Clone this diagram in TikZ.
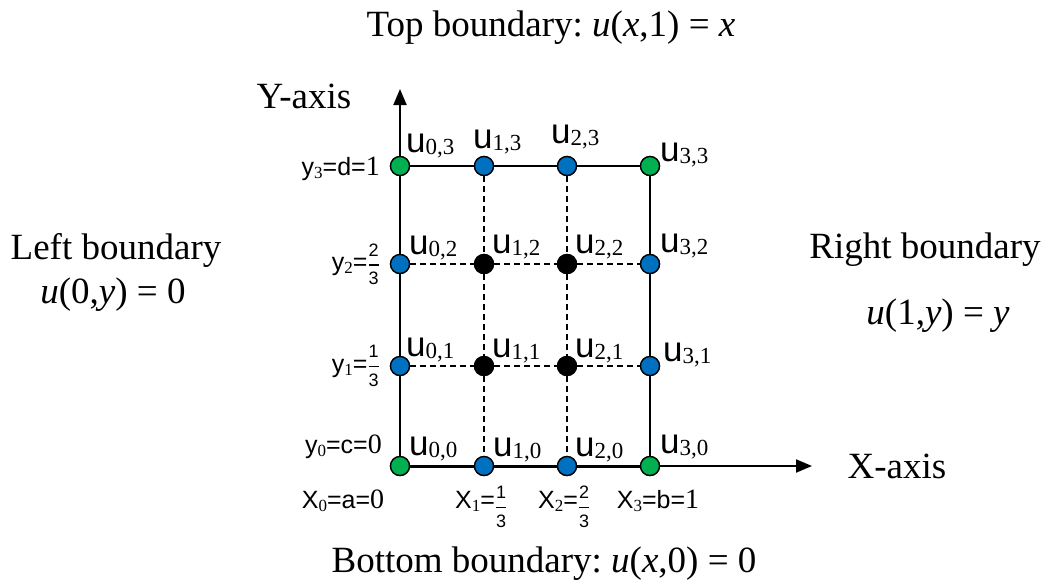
\documentclass[tikz,border=0pt]{standalone}
\usepackage{fontspec}
\setmainfont{Liberation Serif}
\newfontfamily\arialf{Liberation Sans}
\usetikzlibrary{arrows.meta}
\definecolor{ptgreen}{HTML}{00B050}
\definecolor{ptblue}{HTML}{0070C0}
\newcommand\ulab[1]{{\fontsize{35}{35}\selectfont\arialf u}{\fontsize{23}{23}\selectfont\raisebox{-2pt}{#1}}}
\newcommand\lA[1]{{\arialf\fontsize{25}{25}\selectfont #1}}
\newcommand\lS[1]{{\fontsize{17}{17}\selectfont\raisebox{-3pt}{#1}}}
\newcommand\lD[1]{{\fontsize{28}{28}\selectfont #1}}
\newcommand\lfr[2]{{\fontsize{22}{22}\selectfont$\displaystyle{\hbox{\arialf\fontsize{18}{18}\selectfont #1}\above1.3pt\hbox{\arialf\fontsize{18}{18}\selectfont #2}}$}}
\newcommand\bigtxt[1]{{\fontsize{37}{42}\selectfont #1}}
\begin{document}
\begin{tikzpicture}[x=1pt,y=-1pt,
  pt/.style={circle,draw=black,line width=1.3pt,minimum size=19pt,inner sep=0pt},
  gpt/.style={pt,fill=ptgreen},
  bpt/.style={pt,fill=ptblue},
  kpt/.style={pt,fill=black},
  grid/.style={line width=1.3pt,dash pattern=on 6pt off 4pt},
  lab/.style={inner sep=0pt,anchor=base west},
  txt/.style={inner sep=0pt}]
\useasboundingbox (0,0) rectangle (1051,582);
% nodes
\node[gpt] (n00) at (400,466) {};
\node[bpt] (n10) at (484,466) {};
\node[bpt] (n20) at (567,466) {};
\node[gpt] (n30) at (650,466) {};
\node[bpt] (n01) at (400,366) {};
\node[kpt] (n11) at (484,366) {};
\node[kpt] (n21) at (567,366) {};
\node[bpt] (n31) at (650,366) {};
\node[bpt] (n02) at (400,264) {};
\node[kpt] (n12) at (484,264) {};
\node[kpt] (n22) at (567,264) {};
\node[bpt] (n32) at (650,264) {};
\node[gpt] (n03) at (400,166) {};
\node[bpt] (n13) at (484,166) {};
\node[bpt] (n23) at (567,166) {};
\node[gpt] (n33) at (650,166) {};
\coordinate (xend) at (812,466);
\coordinate (yend) at (400,89);
% connectors
\draw[grid] (n01) -- (n11) -- (n21) -- (n31);
\draw[grid] (n02) -- (n12) -- (n22) -- (n32);
\draw[grid] (n13) -- (n12) -- (n11) -- (n10);
\draw[grid] (n23) -- (n22) -- (n21) -- (n20);
\draw[line width=1.5pt] (n03) -- (n13) -- (n23) -- (n33);
\draw[line width=1.5pt] (n33) -- (n32) -- (n31) -- (n30);
\draw[line width=2pt] (n00) -- (n01) -- (n02) -- (n03);
\draw[line width=2pt,-{Triangle[length=16pt,width=13pt]}] (n03) -- (yend);
\draw[line width=3pt] (n00) -- (n10) -- (n20) -- (n30);
\draw[line width=2pt,-{Triangle[length=16pt,width=13pt]}] (n30) -- (xend);
% redraw nodes on top
\foreach \n/\s in {n00/gpt,n10/bpt,n20/bpt,n30/gpt,n01/bpt,n11/kpt,n21/kpt,n31/bpt,n02/bpt,n12/kpt,n22/kpt,n32/bpt,n03/gpt,n13/bpt,n23/bpt,n33/gpt}
  \node[\s] at (\n) {};
% u labels
\node[lab] (l03) at (406,152) {\ulab{0,3}};
\node[lab] (l13) at (473,148) {\ulab{1,3}};
\node[lab] (l23) at (551,143) {\ulab{2,3}};
\node[lab] (l33) at (660,161) {\ulab{3,3}};
\node[lab] (l02) at (409,254) {\ulab{0,2}};
\node[lab] (l12) at (492,253) {\ulab{1,2}};
\node[lab] (l22) at (575,253) {\ulab{2,2}};
\node[lab] (l32) at (660,252) {\ulab{3,2}};
\node[lab] (l01) at (406,356) {\ulab{0,1}};
\node[lab] (l11) at (492,357) {\ulab{1,1}};
\node[lab] (l21) at (575,357) {\ulab{2,1}};
\node[lab] (l31) at (663,361) {\ulab{3,1}};
\node[lab] (l00) at (409,455) {\ulab{0,0}};
\node[lab] (l10) at (493,456) {\ulab{1,0}};
\node[lab] (l20) at (575,456) {\ulab{2,0}};
\node[lab] (l30) at (660,453) {\ulab{3,0}};
% axis value labels
\node[txt,anchor=base east] (ly3) at (380,175) {\lA{y}\lS{3}\lA{=d=}\lD{1}};
\node[txt,anchor=east] (ly2) at (380,264) {\lA{y}\lS{2}\lA{=}\lfr{2}{3}};
\node[txt,anchor=east] (ly1) at (380,366) {\lA{y}\lS{1}\lA{=}\lfr{1}{3}};
\node[txt,anchor=base east] (ly0) at (382,453) {\lA{y}\lS{0}\lA{=c=}\lD{0}};
\node[txt,anchor=base] (lx0) at (343,508) {\lA{X}\lS{0}\lA{=a=}\lD{0}};
\node[txt,anchor=base west] (lx1) at (455,508) {\lA{X}\lS{1}\lA{=}\raisebox{-5pt}{\lfr{1}{3}}};
\node[txt,anchor=base west] (lx2) at (538,508) {\lA{X}\lS{2}\lA{=}\raisebox{-5pt}{\lfr{2}{3}}};
\node[txt,anchor=base] (lx3) at (658,508) {\lA{X}\lS{3}\lA{=b=}\lD{1}};
% big texts
\node[txt,anchor=base] (top) at (551,36) {\bigtxt{Top boundary:\ \textit{u}(\textit{x},1) = \textit{x}}};
\node[txt,anchor=base] (bot) at (544,572) {\bigtxt{Bottom boundary:\ \textit{u}(\textit{x},0) = 0}};
\node[txt,anchor=base] (yax) at (304,108) {\bigtxt{Y-axis}};
\node[txt,anchor=base] (xax) at (897,478) {\bigtxt{X-axis}};
\node[txt,anchor=base] (lb1) at (116,259) {\bigtxt{Left boundary}};
\node[txt,anchor=base] (lb2) at (113,303) {\bigtxt{\textit{u}(0,\textit{y}) = 0}};
\node[txt,anchor=base] (rb1) at (925,258) {\bigtxt{Right boundary}};
\node[txt,anchor=base] (rb2) at (938,324) {\bigtxt{\textit{u}(1,\textit{y}) = \textit{y}}};
\end{tikzpicture}
\end{document}
